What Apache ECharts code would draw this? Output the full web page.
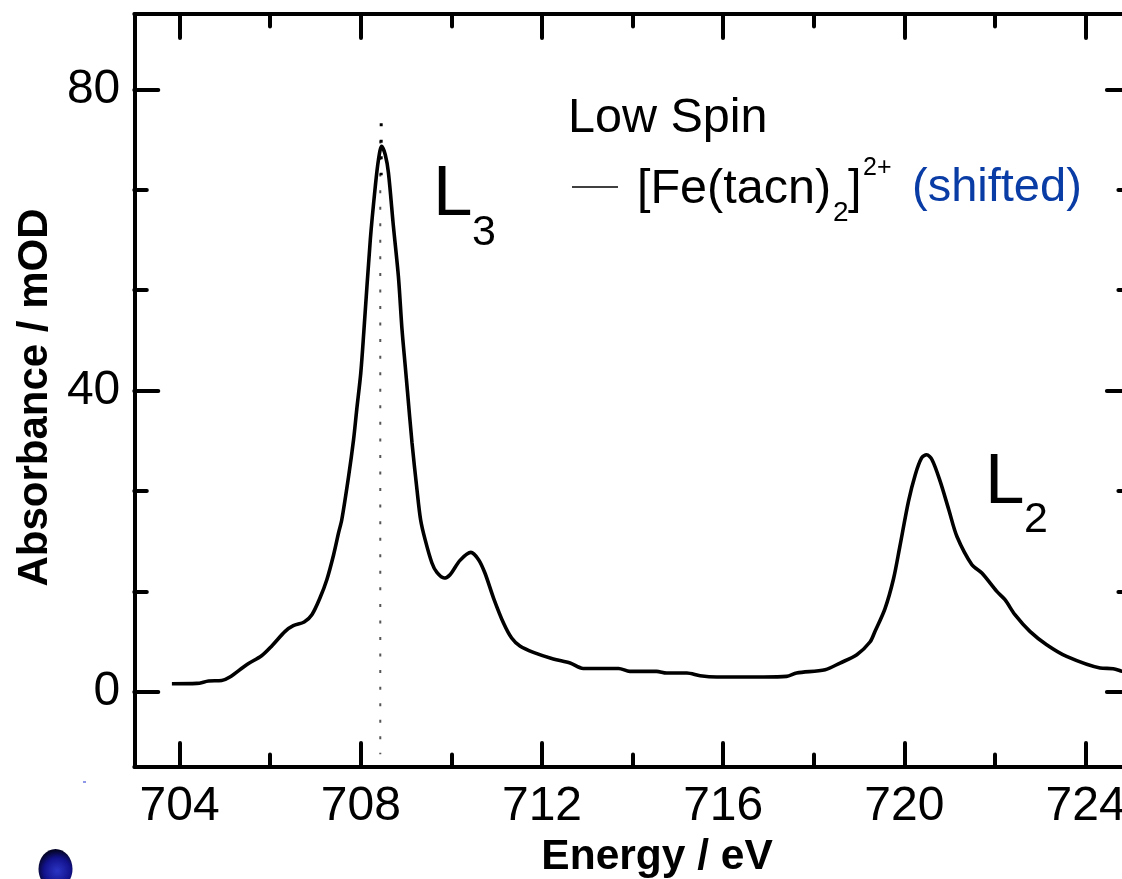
<!DOCTYPE html>
<html>
<head>
<meta charset="utf-8">
<title>Absorbance</title>
<script src="https://cdn.jsdelivr.net/npm/echarts@6/dist/echarts.min.js"></script>
<style>
html, body { margin: 0; padding: 0; background: #fff; overflow: hidden; }
#main { width: 1122px; height: 879px; }
</style>
</head>
<body>
<div id="main"></div>
<script>
// spectrum
var energy = [703.83,704.38,704.64,704.93,705.11,705.48,705.81,706.04,706.33,706.51,706.75,706.92,707.10,707.25,707.40,707.51,707.58,707.73,707.84,707.91,708.00,708.07,708.21,708.32,708.39,708.46,708.54,708.61,708.72,708.83,708.91,708.98,709.03,709.13,709.24,709.32,709.42,709.57,709.68,709.84,709.97,710.19,710.43,710.60,710.74,710.93,711.15,711.33,711.52,711.81,712.25,712.62,712.91,713.69,713.94,714.53,714.75,715.20,715.49,715.86,716.89,717.40,717.62,718.25,718.58,718.95,719.24,719.35,719.57,719.76,719.90,720.09,720.24,720.38,720.49,720.61,720.79,720.98,721.16,721.49,721.71,722.04,722.22,722.44,722.77,723.14,723.58,724.32,724.61,724.81,724.90];
var absorbance = [1.06,1.10,1.42,1.50,1.95,3.59,4.78,6.11,8.01,8.76,9.26,10.23,12.48,14.87,18.19,21.12,22.84,28.59,33.47,37.45,42.36,48.07,60.03,67.10,70.65,72.42,71.31,68.92,61.79,55.15,48.07,43.30,39.90,33.07,26.83,22.84,20.19,17.09,15.84,15.10,15.54,17.44,18.50,17.53,15.76,12.44,9.12,7.13,6.02,5.22,4.34,3.81,3.09,3.09,2.70,2.70,2.48,2.48,2.12,1.95,1.95,2.03,2.48,2.92,3.81,4.91,6.60,8.00,11.00,15.00,19.30,25.27,28.82,31.04,31.47,30.81,27.93,24.17,20.62,16.87,15.76,13.32,12.22,10.23,8.01,6.24,4.69,3.15,3.05,2.70,2.60];

// dotted marker at the L3 maximum, the top dots are darker
var markerEnergy = [708.43, 708.43];
var markerValue = [73.2, -8.3];
var markerTopEnergy = [708.45, 708.45];
var markerTopValue = [75.5, 68.6];

var xMajorTicks = [704, 708, 712, 716, 720, 724];
var xMinorTicks = [706, 710, 714, 718, 722];
var yMajorTicks = [0, 40, 80];
var yMinorTicks = [13.33, 26.67, 53.33, 66.67];

var fontName = '"Liberation Sans", Arial, sans-serif';
var axisColor = '#000';

function makeAxis(type, pos, lo, hi, ticks, len, withLabels) {
    var ax = {
        type: 'value',
        position: pos,
        min: lo,
        max: hi,
        splitLine: { show: false },
        minorTick: { show: false },
        axisLine: { show: len > 20, onZero: false, lineStyle: { color: axisColor, width: 4, cap: 'round' } },
        axisTick: {
            show: true,
            inside: true,
            length: len,
            customValues: ticks,
            lineStyle: { color: axisColor, width: 4, cap: 'round' }
        },
        axisLabel: {
            show: withLabels,
            customValues: ticks,
            fontFamily: fontName,
            fontSize: 48,
            color: '#000',
            margin: type == 'x' ? 16 : 14,
            padding: type == 'x' ? 0 : [0, 0, 3, 0],
            showMinLabel: true,
            showMaxLabel: true
        }
    };
    return ax;
}

var xBottom = makeAxis('x', 'bottom', 703, 725, xMajorTicks, 24, true);
xBottom.name = 'Energy / eV';
xBottom.nameLocation = 'middle';
xBottom.nameGap = 68;
xBottom.nameTextStyle = { fontFamily: fontName, fontSize: 42.5, fontWeight: 'bold', color: '#000', padding: [0, 0, 0, 49] };

var yLeft = makeAxis('y', 'left', -10, 90, yMajorTicks, 24, true);
yLeft.name = 'Absorbance / mOD';
yLeft.nameLocation = 'middle';
yLeft.nameGap = 78;
yLeft.nameTextStyle = { fontFamily: fontName, fontSize: 42, fontWeight: 'bold', color: '#000', padding: [0, 14, 0, 0] };

var option = {
    animation: false,
    backgroundColor: '#fff',
    grid: { left: 134.3, top: 14, width: 996.6, height: 753, containLabel: false, outerBoundsMode: 'none' },
    xAxis: [
        xBottom,
        makeAxis('x', 'bottom', 703, 725, xMinorTicks, 12.5, false),
        makeAxis('x', 'top', 703, 725, xMajorTicks, 24, false),
        makeAxis('x', 'top', 703, 725, xMinorTicks, 12.5, false)
    ],
    yAxis: [
        yLeft,
        makeAxis('y', 'left', -10, 90, yMinorTicks, 12.5, false),
        makeAxis('y', 'right', -10, 90, yMajorTicks, 24, false),
        makeAxis('y', 'right', -10, 90, yMinorTicks, 12.5, false)
    ],
    series: [
        {
            name: 'marker',
            type: 'line',
            showSymbol: false,
            silent: true,
            data: markerEnergy.map(function (e, i) { return [e, markerValue[i]]; }),
            lineStyle: { color: '#555', width: 2, type: [3, 13.55], cap: 'butt' }
        },
        {
            name: 'marker top',
            type: 'line',
            showSymbol: false,
            silent: true,
            data: markerTopEnergy.map(function (e, i) { return [e, markerTopValue[i]]; }),
            lineStyle: { color: '#000', width: 3, type: [3, 13.55], cap: 'butt' }
        },
        {
            name: '[Fe(tacn)2]2+',
            type: 'line',
            showSymbol: false,
            smooth: 0.3,
            data: energy.map(function (e, i) { return [e, absorbance[i]]; }),
            lineStyle: { color: '#000', width: 3.6 }
        }
    ],
    graphic: [
        { type: 'text', left: 433, top: 160, style: { text: 'L', font: '71px ' + fontName, fill: '#000' } },
        { type: 'text', left: 472, top: 212, style: { text: '3', font: '43px ' + fontName, fill: '#000' } },
        { type: 'text', left: 985, top: 448, style: { text: 'L', font: '71px ' + fontName, fill: '#000' } },
        { type: 'text', left: 1024, top: 499, style: { text: '2', font: '43px ' + fontName, fill: '#000' } },
        { type: 'text', left: 568, top: 94, style: { text: 'Low Spin', font: '48.5px ' + fontName, fill: '#000' } },
        { type: 'line', shape: { x1: 572, y1: 187, x2: 618, y2: 187 }, style: { stroke: '#000', lineWidth: 1.5 } },
        { type: 'text', left: 637, top: 165, style: { text: '[Fe(tacn)', font: '48.5px ' + fontName, fill: '#000' } },
        { type: 'text', left: 833, top: 199, style: { text: '2', font: '28px ' + fontName, fill: '#000' } },
        { type: 'text', left: 848, top: 165, style: { text: ']', font: '48.5px ' + fontName, fill: '#000' } },
        { type: 'text', left: 863, top: 156, style: { text: '2+', font: '25px ' + fontName, fill: '#000' } },
        { type: 'text', left: 912, top: 165, style: { text: '(shifted)', font: '47px ' + fontName, fill: '#0a3ca5' } },
        // bit of the molecule that sits under the figure
        {
            type: 'ellipse',
            shape: { cx: 55.5, cy: 869, rx: 17, ry: 20 },
            style: { fill: new echarts.graphic.RadialGradient(0.55, 0.55, 0.6, [
                { offset: 0, color: '#2b35c4' },
                { offset: 0.65, color: '#12128c' },
                { offset: 1, color: '#05052a' }
            ]) }
        },
        { type: 'rect', shape: { x: 83, y: 781.5, width: 3, height: 1 }, style: { fill: '#2030d0' } }
    ]
};

var myChart = echarts.init(document.getElementById('main'));
myChart.setOption(option);
</script>
</body>
</html>
